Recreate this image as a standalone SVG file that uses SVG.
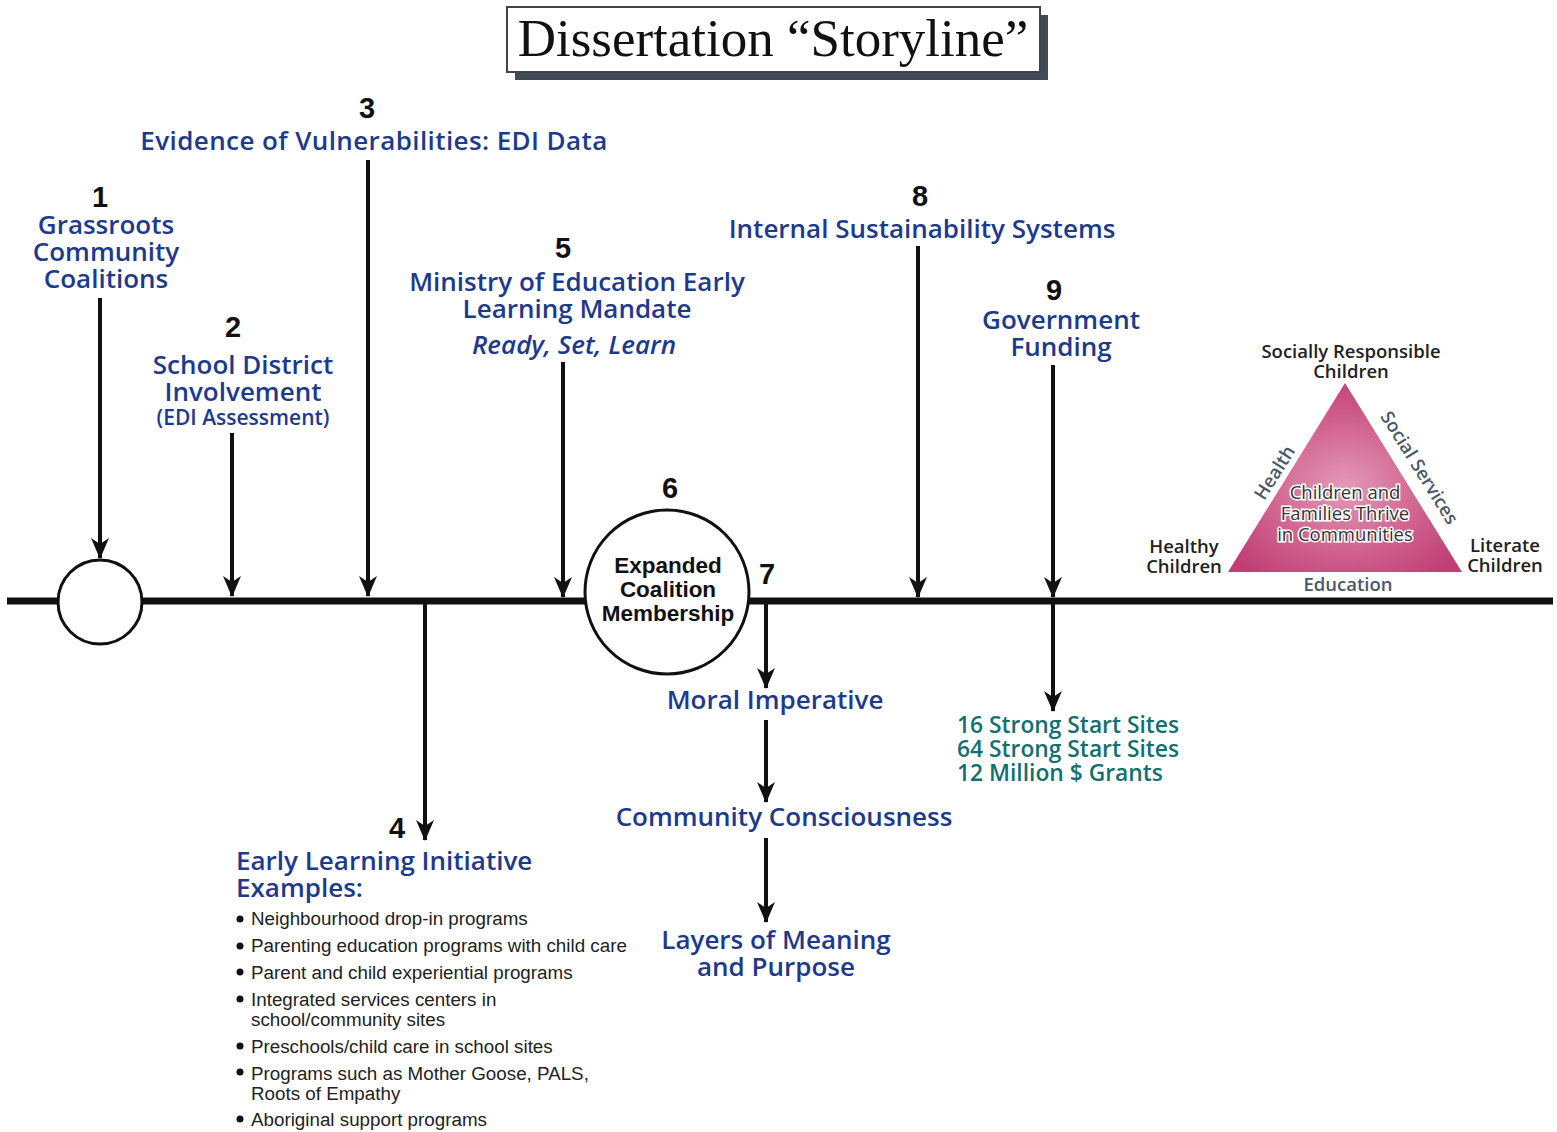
<svg xmlns="http://www.w3.org/2000/svg" width="1557" height="1132" viewBox="0 0 1557 1132">
  <style>
    .lbl { font-family: "Open Sans", "Noto Sans", sans-serif; font-weight: 600; fill: #1e3a8c; text-anchor: middle; font-size: 26px; }
    .lft { font-family: "Open Sans", "Noto Sans", sans-serif; font-weight: 600; fill: #1e3a8c; text-anchor: start; font-size: 26px; }
    .sub { font-size: 21px; }
    .num { font-family: "Liberation Sans", Arial, sans-serif; font-weight: bold; fill: #111; text-anchor: middle; font-size: 29px; }
    .teal { font-family: "Open Sans", "Noto Sans", sans-serif; font-weight: 600; fill: #137070; font-size: 22.8px; }
    .bul { font-family: "Liberation Sans", Arial, sans-serif; fill: #222; font-size: 18.8px; }
    .blk { font-family: "Liberation Sans", Arial, sans-serif; font-weight: bold; fill: #111; text-anchor: middle; font-size: 22.5px; }
    .tri { font-family: "Open Sans", "Noto Sans", sans-serif; font-weight: 600; fill: #222; text-anchor: middle; font-size: 18.5px; }
    .side { fill: #4a5868; }
    .ctr { font-family: "Open Sans", "Noto Sans", sans-serif; fill: #333; text-anchor: middle; font-size: 18.5px; stroke: #fff; stroke-width: 3; paint-order: stroke; }
    .conn { stroke: #111; stroke-width: 4; fill: none; }
  </style>
  <defs>
    <marker id="arr" markerUnits="userSpaceOnUse" markerWidth="22" markerHeight="22" viewBox="0 0 22 22" refX="20" refY="11" orient="auto">
      <path d="M0,2 L6,11 L0,20 L21,11 Z" fill="#111"/>
    </marker>
    <radialGradient id="pink" cx="0.5" cy="0.55" r="0.6">
      <stop offset="0" stop-color="#e39ab8"/>
      <stop offset="0.6" stop-color="#cf5f8c"/>
      <stop offset="1" stop-color="#bf3f74"/>
    </radialGradient>
  </defs>

  <rect width="1557" height="1132" fill="#fff"/>

  <!-- title box with drop shadow -->
  <g id="title">
    <rect x="515" y="15" width="533" height="65" fill="#3f4b57"/>
    <rect x="507" y="7" width="533" height="65" fill="#fff" stroke="#444" stroke-width="2"/>
    <text x="773" y="56" font-family="Liberation Serif, Times New Roman, serif" font-size="53" fill="#111" text-anchor="middle">Dissertation “Storyline”</text>
  </g>

  <!-- timeline and connectors -->
  <g id="connectors">
    <line x1="7" y1="601" x2="1553" y2="601" stroke="#111" stroke-width="7"/>
    <line class="conn" x1="100" y1="298" x2="100" y2="558" marker-end="url(#arr)"/>
    <line class="conn" x1="232" y1="433" x2="232" y2="596" marker-end="url(#arr)"/>
    <line class="conn" x1="368" y1="160" x2="368" y2="596" marker-end="url(#arr)"/>
    <line class="conn" x1="425" y1="601" x2="425" y2="840" marker-end="url(#arr)"/>
    <line class="conn" x1="563" y1="362" x2="563" y2="597" marker-end="url(#arr)"/>
    <line class="conn" x1="766" y1="601" x2="766" y2="688" marker-end="url(#arr)"/>
    <line class="conn" x1="766" y1="720" x2="766" y2="802" marker-end="url(#arr)"/>
    <line class="conn" x1="766" y1="838" x2="766" y2="922" marker-end="url(#arr)"/>
    <line class="conn" x1="918" y1="246" x2="918" y2="597" marker-end="url(#arr)"/>
    <line class="conn" x1="1053" y1="365" x2="1053" y2="597" marker-end="url(#arr)"/>
    <line class="conn" x1="1053" y1="601" x2="1053" y2="711" marker-end="url(#arr)"/>
  </g>

  <g id="n1">
    <circle cx="100" cy="602" r="42" fill="#fff" stroke="#111" stroke-width="3"/>
    <text class="num" x="100" y="207">1</text>
    <text class="lbl" x="106" y="234">Grassroots</text>
    <text class="lbl" x="106" y="261">Community</text>
    <text class="lbl" x="106" y="288">Coalitions</text>
  </g>

  <g id="n2">
    <text class="num" x="233" y="337">2</text>
    <text class="lbl" x="243" y="374">School District</text>
    <text class="lbl" x="243" y="401">Involvement</text>
    <text class="lbl sub" x="243" y="425">(EDI Assessment)</text>
  </g>

  <g id="n3">
    <text class="num" x="367" y="118">3</text>
    <text class="lbl" x="374" y="150" letter-spacing="0.4">Evidence of Vulnerabilities: EDI Data</text>
  </g>

  <g id="n4">
    <text class="num" x="397" y="838">4</text>
    <text class="lft" x="236" y="870">Early Learning Initiative</text>
    <text class="lft" x="236" y="897">Examples:</text>
    <g>
      <circle cx="240" cy="919" r="3.5" fill="#111"/>
      <text class="bul" x="251" y="925">Neighbourhood drop-in programs</text>
      <circle cx="240" cy="946" r="3.5" fill="#111"/>
      <text class="bul" x="251" y="952">Parenting education programs with child care</text>
      <circle cx="240" cy="972" r="3.5" fill="#111"/>
      <text class="bul" x="251" y="979">Parent and child experiential programs</text>
      <circle cx="240" cy="999" r="3.5" fill="#111"/>
      <text class="bul" x="251" y="1006">Integrated services centers in</text>
      <text class="bul" x="251" y="1026">school/community sites</text>
      <circle cx="240" cy="1046" r="3.5" fill="#111"/>
      <text class="bul" x="251" y="1053">Preschools/child care in school sites</text>
      <circle cx="240" cy="1072" r="3.5" fill="#111"/>
      <text class="bul" x="251" y="1080">Programs such as Mother Goose, PALS,</text>
      <text class="bul" x="251" y="1100">Roots of Empathy</text>
      <circle cx="240" cy="1119" r="3.5" fill="#111"/>
      <text class="bul" x="251" y="1126">Aboriginal support programs</text>
    </g>
  </g>

  <g id="n5">
    <text class="num" x="563" y="258">5</text>
    <text class="lbl" x="577" y="291">Ministry of Education Early</text>
    <text class="lbl" x="577" y="318">Learning Mandate</text>
    <text class="lbl" x="574" y="354" font-style="italic">Ready, Set, Learn</text>
  </g>

  <g id="n6">
    <circle cx="667" cy="592" r="82" fill="#fff" stroke="#111" stroke-width="3"/>
    <text class="num" x="670" y="498">6</text>
    <text class="blk" x="668" y="573">Expanded</text>
    <text class="blk" x="668" y="597">Coalition</text>
    <text class="blk" x="668" y="621">Membership</text>
  </g>

  <g id="n7">
    <text class="num" x="767" y="584">7</text>
    <text class="lbl" x="775" y="709">Moral Imperative</text>
    <text class="lbl" x="784" y="826">Community Consciousness</text>
    <text class="lbl" x="776" y="949">Layers of Meaning</text>
    <text class="lbl" x="776" y="976">and Purpose</text>
  </g>

  <g id="n8">
    <text class="num" x="920" y="206">8</text>
    <text class="lbl" x="922" y="238">Internal Sustainability Systems</text>
  </g>

  <g id="n9">
    <text class="num" x="1054" y="300">9</text>
    <text class="lbl" x="1061" y="329">Government</text>
    <text class="lbl" x="1061" y="356">Funding</text>
    <text class="teal" x="957" y="733">16 Strong Start Sites</text>
    <text class="teal" x="957" y="757">64 Strong Start Sites</text>
    <text class="teal" x="957" y="781">12 Million $ Grants</text>
  </g>

  <!-- outcomes triangle -->
  <g id="triangle">
    <polygon points="1345,383 1228,572 1462,572" fill="url(#pink)"/>
    <text class="tri" x="1351" y="358">Socially Responsible</text>
    <text class="tri" x="1351" y="378">Children</text>
    <text class="tri" x="1184" y="553">Healthy</text>
    <text class="tri" x="1184" y="573">Children</text>
    <text class="tri" x="1505" y="552">Literate</text>
    <text class="tri" x="1505" y="572">Children</text>
    <text class="tri side" x="1348" y="591">Education</text>
    <text class="tri side" x="0" y="0" transform="translate(1280,476) rotate(-58)">Health</text>
    <text class="tri side" x="0" y="0" transform="translate(1414,471) rotate(58)">Social Services</text>
    <text class="ctr" x="1345" y="499">Children and</text>
    <text class="ctr" x="1345" y="520">Families Thrive</text>
    <text class="ctr" x="1345" y="541">in Communities</text>
  </g>
</svg>
